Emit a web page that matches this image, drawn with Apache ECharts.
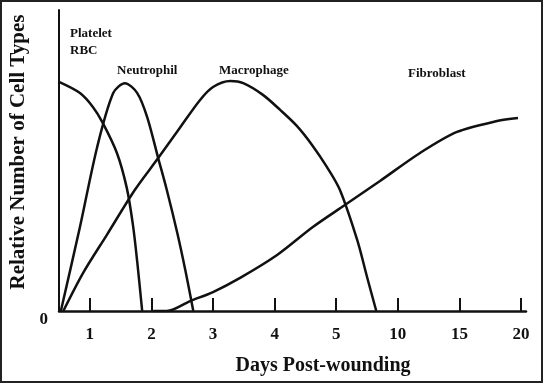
<!DOCTYPE html>
<html>
<head>
<meta charset="utf-8">
<script src="https://cdn.jsdelivr.net/npm/echarts@6/dist/echarts.min.js"></script>
<style>
html,body{margin:0;padding:0;background:#fff;}
#chart{width:544px;height:383px;}
</style>
</head>
<body>
<div id="chart"></div>
<script>
// x values are positions on the (non-linear) day axis: position k carries dayLabels[k-1]
const dayLabels = ['1', '2', '3', '4', '5', '10', '15', '20'];
const tickPositions = [1, 2, 3, 4, 5, 6, 7, 8];
const yLabels = ['0'];

const plateletRBC = [
  [0.5, 76.1], [0.84, 72.4], [1.05, 67.8], [1.21, 62.5], [1.44, 52.5],
  [1.60, 40.9], [1.70, 28.6], [1.77, 16.3], [1.85, 0]
];
const neutrophil = [
  [0.53, 0], [0.84, 27.9], [1.12, 54.5], [1.38, 72.4], [1.57, 75.7],
  [1.77, 72.4], [1.93, 64.5], [2.11, 50.8], [2.25, 40.2], [2.42, 25.9],
  [2.55, 13.6], [2.68, 0]
];
const macrophage = [
  [0.57, 0], [0.89, 12.6], [1.28, 25.4], [1.73, 40.2], [2.11, 50.8], [2.46, 60.8],
  [2.79, 70.1], [3.00, 74.4], [3.28, 76.4], [3.49, 75.7], [3.81, 71.8],
  [4.09, 66.8], [4.36, 61.5], [4.61, 55.1], [4.85, 47.8], [5.06, 40.2],
  [5.34, 23.6], [5.50, 11.3], [5.65, 0]
];
const fibroblast = [
  [2.03, 0], [2.25, 0], [2.63, 3.3], [3.00, 6.3], [3.44, 11.0], [4.04, 18.6],
  [4.62, 27.9], [5.14, 35.2], [5.71, 43.2], [6.36, 52.5],
  [6.96, 59.5], [7.61, 63.1], [7.95, 64.1]
];

const seriesNames = ['Platelet / RBC', 'Neutrophil', 'Macrophage', 'Fibroblast'];
const seriesData = [plateletRBC, neutrophil, macrophage, fibroblast];

const serif = '"Liberation Serif", "DejaVu Serif", serif';
const ink = '#111';

const chart = echarts.init(document.getElementById('chart'), null, {renderer: 'canvas'});

function lineSeries(name, data) {
  return {
    name: name,
    type: 'line',
    data: data,
    smooth: 0.3,
    showSymbol: false,
    symbol: 'none',
    silent: true,
    lineStyle: {color: ink, width: 2.5},
    z: 3
  };
}

function note(text, x, y) {
  return {
    type: 'text',
    x: x, y: y,
    style: {
      text: text,
      fill: ink,
      font: 'bold 13px ' + serif,
      textAlign: 'left',
      textVerticalAlign: 'middle'
    }
  };
}

chart.setOption({
  animation: false,
  backgroundColor: '#fff',
  grid: {left: 59, right: 18, top: 10, bottom: 72, containLabel: false, outerBoundsMode: 'none'},
  xAxis: {
    type: 'value',
    min: 0.5,
    max: 8.08,
    splitLine: {show: false},
    axisLine: {show: true, onZero: false, lineStyle: {color: ink, width: 2.5}},
    axisTick: {show: true, inside: true, length: 13, customValues: tickPositions,
      lineStyle: {color: ink, width: 2}},
    axisLabel: {
      customValues: tickPositions,
      margin: 15,
      color: ink,
      fontFamily: serif,
      fontWeight: 'bold',
      fontSize: 17,
      formatter: function (v) { return dayLabels[Math.round(v) - 1] || ''; }
    }
  },
  yAxis: {
    type: 'value',
    min: 0,
    max: 100,
    splitLine: {show: false},
    axisLine: {show: true, lineStyle: {color: ink, width: 2}},
    axisTick: {show: false},
    axisLabel: {
      customValues: [0],
      margin: 11,
      verticalAlign: 'top',
      color: ink,
      fontFamily: serif,
      fontWeight: 'bold',
      fontSize: 17,
      formatter: function (v) { return v === 0 ? yLabels[0] : ''; }
    }
  },
  series: seriesData.map(function (d, i) { return lineSeries(seriesNames[i], d); }),
  graphic: [
    {type: 'rect', shape: {x: 1, y: 1, width: 541, height: 381},
      style: {fill: 'none', stroke: '#222', lineWidth: 2}, silent: true},
    {type: 'text', x: 323, y: 366,
      style: {text: 'Days Post-wounding', fill: ink, font: 'bold 20px ' + serif,
        textAlign: 'center', textVerticalAlign: 'middle'}},
    {type: 'text', x: 19, y: 152, rotation: Math.PI / 2,
      style: {text: 'Relative Number of Cell Types', fill: ink, font: 'bold 21px ' + serif,
        textAlign: 'center', textVerticalAlign: 'middle'}},
    note('Platelet', 70, 34),
    note('RBC', 70, 51),
    note('Neutrophil', 117, 71),
    note('Macrophage', 219, 71),
    note('Fibroblast', 408, 74)
  ]
});
</script>
</body>
</html>
